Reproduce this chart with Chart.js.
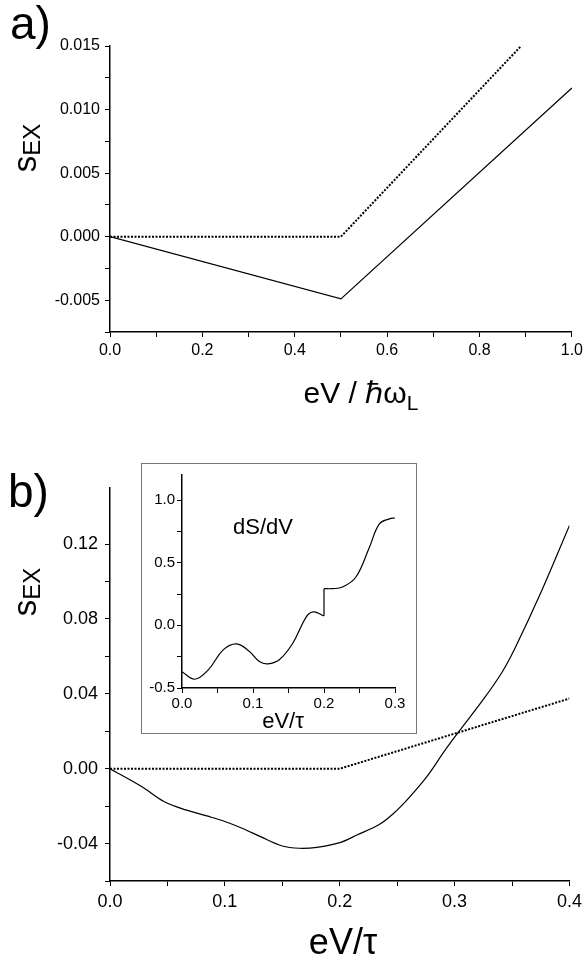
<!DOCTYPE html>
<html>
<head>
<meta charset="utf-8">
<script src="https://cdn.jsdelivr.net/npm/chart.js@4/dist/chart.umd.min.js"></script>
<style>
  body { margin:0; background:#fff; width:587px; height:964px; position:relative; overflow:hidden;
         font-family: Arial, "Liberation Sans", sans-serif; color:#000; }
  .box { position:absolute; }
  .lbl { position:absolute; white-space:nowrap; line-height:1; }
  #inset { position:absolute; left:141px; top:463px; width:276px; height:271px; background:#fff;
           border:1px solid #777; box-sizing:border-box; }
</style>
</head>
<body>
<div class="box" style="left:0;top:0"><canvas id="chartA" width="587" height="420"></canvas></div>
<div class="box" style="left:0;top:440px"><canvas id="chartB" width="587" height="524"></canvas></div>
<div id="inset"><canvas id="chartC" width="274" height="269"></canvas></div>

<div class="lbl" style="left:10px;top:0px;font-size:46px">a)</div>
<div class="lbl" style="left:8px;top:468px;font-size:46px">b)</div>
<div class="lbl" style="left:26px;top:148px;transform:translate(-50%,-50%) rotate(-90deg)"><span style="font-size:33px">s</span><sub style="font-size:24px">EX</sub></div>
<div class="lbl" style="left:26px;top:592px;transform:translate(-50%,-50%) rotate(-90deg)"><span style="font-size:33px">s</span><sub style="font-size:24px">EX</sub></div>
<div class="lbl" style="left:361px;top:395px;transform:translate(-50%,-50%);font-size:30px">eV / ℏω<sub style="font-size:21px">L</sub></div>
<div class="lbl" style="left:343px;top:942px;transform:translate(-50%,-50%);font-size:36px">eV/τ</div>
<div class="lbl" style="left:283px;top:721px;transform:translate(-50%,-50%);font-size:22px">eV/τ</div>
<div class="lbl" style="left:263px;top:527px;transform:translate(-50%,-50%);font-size:22px">dS/dV</div>

<script>
Chart.defaults.font.family = 'Arial, "Liberation Sans", sans-serif';
Chart.defaults.color = '#000';

// panel a)
const topSolidX = [0, 0.5, 1.0];
const topSolidY = [0, -0.0049, 0.0117];
const topDashX = [0, 0.5, 0.89];
const topDashY = [0, 0, 0.015];

// panel b)
const botSolidX = [0, 0.0275, 0.047, 0.066, 0.086, 0.1, 0.115, 0.131, 0.15, 0.165, 0.18, 0.2, 0.215, 0.234, 0.247, 0.26, 0.276, 0.292, 0.305, 0.325, 0.341, 0.352, 0.375, 0.4];
const botSolidY = [0, -0.0095, -0.0175, -0.022, -0.0255, -0.0282, -0.0318, -0.0363, -0.0413, -0.0425, -0.042, -0.0395, -0.0354, -0.030, -0.0238, -0.0157, -0.0041, 0.0102, 0.0209, 0.037, 0.0513, 0.0637, 0.094, 0.13];
const botDashX = [0, 0.2, 0.4];
const botDashY = [0, 0, 0.0375];

// inset dS/dV
const insetLeftX = [0, 0.018, 0.037, 0.058, 0.077, 0.095, 0.109, 0.121, 0.137, 0.156, 0.175, 0.185, 0.2];
const insetLeftY = [-0.37, -0.43, -0.355, -0.196, -0.148, -0.209, -0.289, -0.307, -0.275, -0.143, 0.068, 0.108, 0.076];
const insetJumpX = [0.2, 0.2];
const insetJumpY = [0.076, 0.293];
const insetRightX = [0.2, 0.212, 0.226, 0.245, 0.264, 0.278, 0.292, 0.3];
const insetRightY = [0.293, 0.293, 0.306, 0.386, 0.624, 0.81, 0.85, 0.857];

const pts = (xs, ys) => xs.map((x, i) => ({ x: x, y: ys[i] }));
const onStep = (v, step) => Math.abs(Math.round(v / step) * step - v) < 1e-9;

function line(xs, ys, dashed, tension) {
  return {
    data: pts(xs, ys),
    borderColor: '#000',
    borderWidth: dashed ? 2 : 1.2,
    borderDash: dashed ? [2, 1.5] : [],
    pointRadius: 0,
    tension: tension || 0,
    fill: false
  };
}

function axis(o) {
  return {
    type: 'linear',
    min: o.min, max: o.max,
    grid: { drawOnChartArea: false, drawTicks: true, tickLength: 5, color: '#000', tickWidth: 1 },
    border: { display: true, color: '#000', width: 1.5 },
    ticks: {
      stepSize: o.minor, autoSkip: false, maxRotation: 0, padding: o.pad, color: '#000',
      font: { size: o.size },
      callback: v => onStep(v, o.major) ? v.toFixed(o.dec) : ''
    },
    afterBuildTicks: s => { s.ticks = s.ticks.filter(t => onStep(t.value, o.minor)); },
    afterFit: s => { if (o.w) s.width = o.w; if (o.h) s.height = o.h; }
  };
}

function makeChart(id, datasets, pad, xo, yo) {
  return new Chart(document.getElementById(id), {
    type: 'line',
    data: { datasets: datasets },
    options: {
      responsive: false, animation: false, devicePixelRatio: 1,
      layout: { padding: pad },
      plugins: { legend: { display: false }, tooltip: { enabled: false } },
      scales: { x: axis(xo), y: axis(yo) }
    }
  });
}

makeChart('chartA',
  [line(topSolidX, topSolidY, false), line(topDashX, topDashY, true)],
  { left: 0, right: 13, top: 46, bottom: 0 },
  { min: 0, max: 1, minor: 0.1, major: 0.2, dec: 1, size: 16, pad: 4, h: 88 },
  { min: -0.0075, max: 0.015, minor: 0.0025, major: 0.005, dec: 3, size: 16, pad: 5, w: 110 });

makeChart('chartB',
  [line(botSolidX, botSolidY, false, 0.35), line(botDashX, botDashY, true)],
  { left: 0, right: 13, top: 48, bottom: 0 },
  { min: 0, max: 0.4, minor: 0.05, major: 0.1, dec: 1, size: 18, pad: 5, h: 83 },
  { min: -0.06, max: 0.15, minor: 0.02, major: 0.04, dec: 2, size: 18, pad: 7, w: 110 });

makeChart('chartC',
  [line(insetLeftX, insetLeftY, false, 0.4), line(insetJumpX, insetJumpY, false), line(insetRightX, insetRightY, false, 0.4)],
  { left: 0, right: 21, top: 11, bottom: 0 },
  { min: 0, max: 0.3, minor: 0.05, major: 0.1, dec: 1, size: 15, pad: 2, h: 45 },
  { min: -0.5, max: 1.2, minor: 0.25, major: 0.5, dec: 1, size: 15, pad: 2, w: 40 });
</script>
</body>
</html>
